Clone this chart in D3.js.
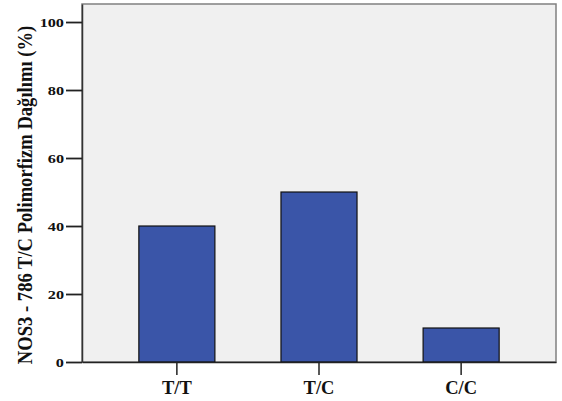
<!DOCTYPE html>
<html>
<head>
<meta charset="utf-8">
<script src="https://cdn.jsdelivr.net/npm/d3@7"></script>
<style>
  body { margin: 0; background: #fff; }
  svg text { font-family: "Liberation Serif", "DejaVu Serif", serif; font-weight: bold; }
</style>
</head>
<body>
<div id="chart"></div>
<script>
// Genotip kategorileri ve yüzdeleri
const genotypes = ["T/T", "T/C", "C/C"];
const percents = [40, 50, 10];
const yTicks = [0, 20, 40, 60, 80, 100];

const width = 562;
const height = 401;
const marginTop = 4;
const marginRight = 6;
const marginBottom = 39;
const marginLeft = 82;

const data = genotypes.map((g, i) => ({ genotype: g, value: percents[i] }));

// x: kategoriler
const x = d3.scaleBand()
  .domain(genotypes)
  .range([marginLeft, width - marginRight])
  .paddingInner(0.465)
  .paddingOuter(0.40);

// y: yüzde
const y = d3.scaleLinear()
  .domain([0, 105.3])
  .range([height - marginBottom, marginTop]);

const svg = d3.select("#chart").append("svg")
  .attr("width", width)
  .attr("height", height)
  .attr("viewBox", [0, 0, width, height]);

// Arka plan
svg.append("rect")
  .attr("x", marginLeft)
  .attr("y", marginTop)
  .attr("width", width - marginRight - marginLeft)
  .attr("height", height - marginBottom - marginTop)
  .attr("fill", "#f0f0f0")
  .attr("stroke", "#808080")
  .attr("stroke-width", 1.5);

// Balkenler
svg.append("g")
  .selectAll("rect")
  .data(data)
  .join("rect")
  .attr("x", d => x(d.genotype))
  .attr("y", d => y(d.value))
  .attr("width", x.bandwidth())
  .attr("height", d => y(0) - y(d.value))
  .attr("fill", "#3a55a8")
  .attr("stroke", "#111")
  .attr("stroke-width", 1.2);

// X ekseni
svg.append("g")
  .attr("transform", `translate(0,${height - marginBottom})`)
  .call(d3.axisBottom(x).tickSize(13).tickSizeOuter(0).tickPadding(6))
  .call(g => g.select(".domain").attr("stroke", "#222").attr("stroke-width", 1.5))
  .call(g => g.selectAll(".tick line").attr("stroke", "#222").attr("stroke-width", 1.5))
  .call(g => g.selectAll(".tick text")
    .attr("font-size", 18.5)
    .attr("fill", "#111"));

// Y ekseni
svg.append("g")
  .attr("transform", `translate(${marginLeft},0)`)
  .call(d3.axisLeft(y).tickValues(yTicks).tickSize(16).tickSizeOuter(0).tickPadding(0))
  .call(g => g.select(".domain").attr("stroke", "#333").attr("stroke-width", 1.5))
  .call(g => g.selectAll(".tick line").attr("stroke", "#222").attr("stroke-width", 1.8))
  .call(g => g.selectAll(".tick text")
    .attr("x", null)
    .attr("transform", "translate(-18,0) scale(1.25,1)")
    .attr("font-size", 13)
    .attr("fill", "#111"));

// Y başlığı
svg.append("text")
  .attr("transform", `translate(27,195) rotate(-90) scale(1,1.12)`)
  .attr("text-anchor", "middle")
  .attr("dominant-baseline", "middle")
  .attr("font-size", 18.6)
  .attr("fill", "#111")
  .text("NOS3 - 786 T/C Polimorfizm Dağılımı (%)");
</script>
</body>
</html>
